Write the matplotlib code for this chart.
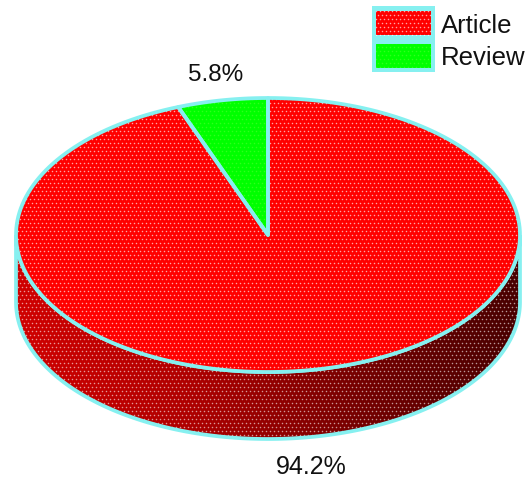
import numpy as np
import matplotlib
matplotlib.use("Agg")
import matplotlib.pyplot as plt
from matplotlib.patches import Polygon, Rectangle
from matplotlib.colors import LinearSegmentedColormap

plt.rcParams['font.family'] = ['Liberation Sans', 'DejaVu Sans']

labels = ["Article", "Review"]
shares = [94.2, 5.8]
colors = ["#ff0000", "#00ff00"]
pct_labels = ["94.2%", "5.8%"]

EDGE = "#86f0f0"
CX, CY, RX, RY, DEPTH = 268, 236, 252, 137, 67
LW = 2.7


def ell(t, dy=0):
    t = np.radians(t)
    return np.column_stack([CX + RX * np.cos(t), CY - RY * np.sin(t) + dy])


def wedge(a0, a1):
    arc = ell(np.linspace(a0, a1, 200))
    return np.vstack([[CX, CY], arc])


def dots(clip, color, alpha):
    # small dither pattern that the original has on every fill
    xs, ys = np.meshgrid(np.arange(0, 528, 4), np.arange(0, 481, 4))
    xs = xs + (ys % 8 == 0) * 2
    sc = ax.scatter(xs.ravel(), ys.ravel(), s=1.2, c=color, alpha=alpha, linewidths=0, zorder=clip.get_zorder())
    sc.set_clip_path(clip)


fig = plt.figure(figsize=(5.28, 4.81), dpi=100)
ax = fig.add_axes([0, 0, 1, 1])
ax.set_xlim(0, 528)
ax.set_ylim(481, 0)
ax.axis("off")

# side of the disc
side = np.vstack([ell(np.linspace(180, 360, 200)), ell(np.linspace(360, 180, 200), DEPTH)])
side_patch = Polygon(side, closed=True, fc="none", ec="none", zorder=1)
ax.add_patch(side_patch)
cmap = LinearSegmentedColormap.from_list("side", ["#d00000", "#b00000", "#780000", "#480000"])
grad = np.linspace(0, 1, 256).reshape(1, -1)
im = ax.imshow(grad, cmap=cmap, extent=[CX - RX, CX + RX, CY + RY + DEPTH, CY], aspect="auto", zorder=1)
im.set_clip_path(side_patch)
ax.set_xlim(0, 528)
ax.set_ylim(481, 0)
dots(side_patch, "white", 0.6)
ax.add_patch(Polygon(side, closed=True, fc="none", ec=EDGE, lw=LW, zorder=2))

# top of the disc, going clockwise from twelve o'clock
start = 90
angles = []
for s in shares:
    angles.append((start, start - s * 3.6))
    start -= s * 3.6
for (a0, a1), col in zip(angles, colors):
    p = Polygon(wedge(a0, a1), closed=True, fc=col, ec="none", zorder=3)
    ax.add_patch(p)
    dots(p, "white" if col == "#ff0000" else "#a0ff60", 0.65 if col == "#ff0000" else 0.3)
for (a0, a1) in angles:
    ax.add_patch(Polygon(wedge(a0, a1), closed=True, fc="none", ec=EDGE, lw=LW, joinstyle="round", zorder=4))

# value labels
ax.text(311, 474, pct_labels[0], fontsize=18, ha="center", va="baseline", color="#111111")
ax.text(216, 81, pct_labels[1], fontsize=17.5, ha="center", va="baseline", color="#111111")

# legend
ax.add_patch(Rectangle((372, 7), 63, 66, fc=EDGE, ec="none", zorder=1))
baselines = [33, 65]
for i, (lab, col) in enumerate(zip(labels, colors)):
    y = 12 + i * 33
    r = Rectangle((376, y), 55, 24, fc=col, ec="none", zorder=2)
    ax.add_patch(r)
    dots(r, "white" if i == 0 else "#a0ff60", 0.65 if i == 0 else 0.3)
    ax.text(441, baselines[i], lab, fontsize=18.5, ha="left", va="baseline", color="#111111")

fig.savefig("out.png", dpi=100)
